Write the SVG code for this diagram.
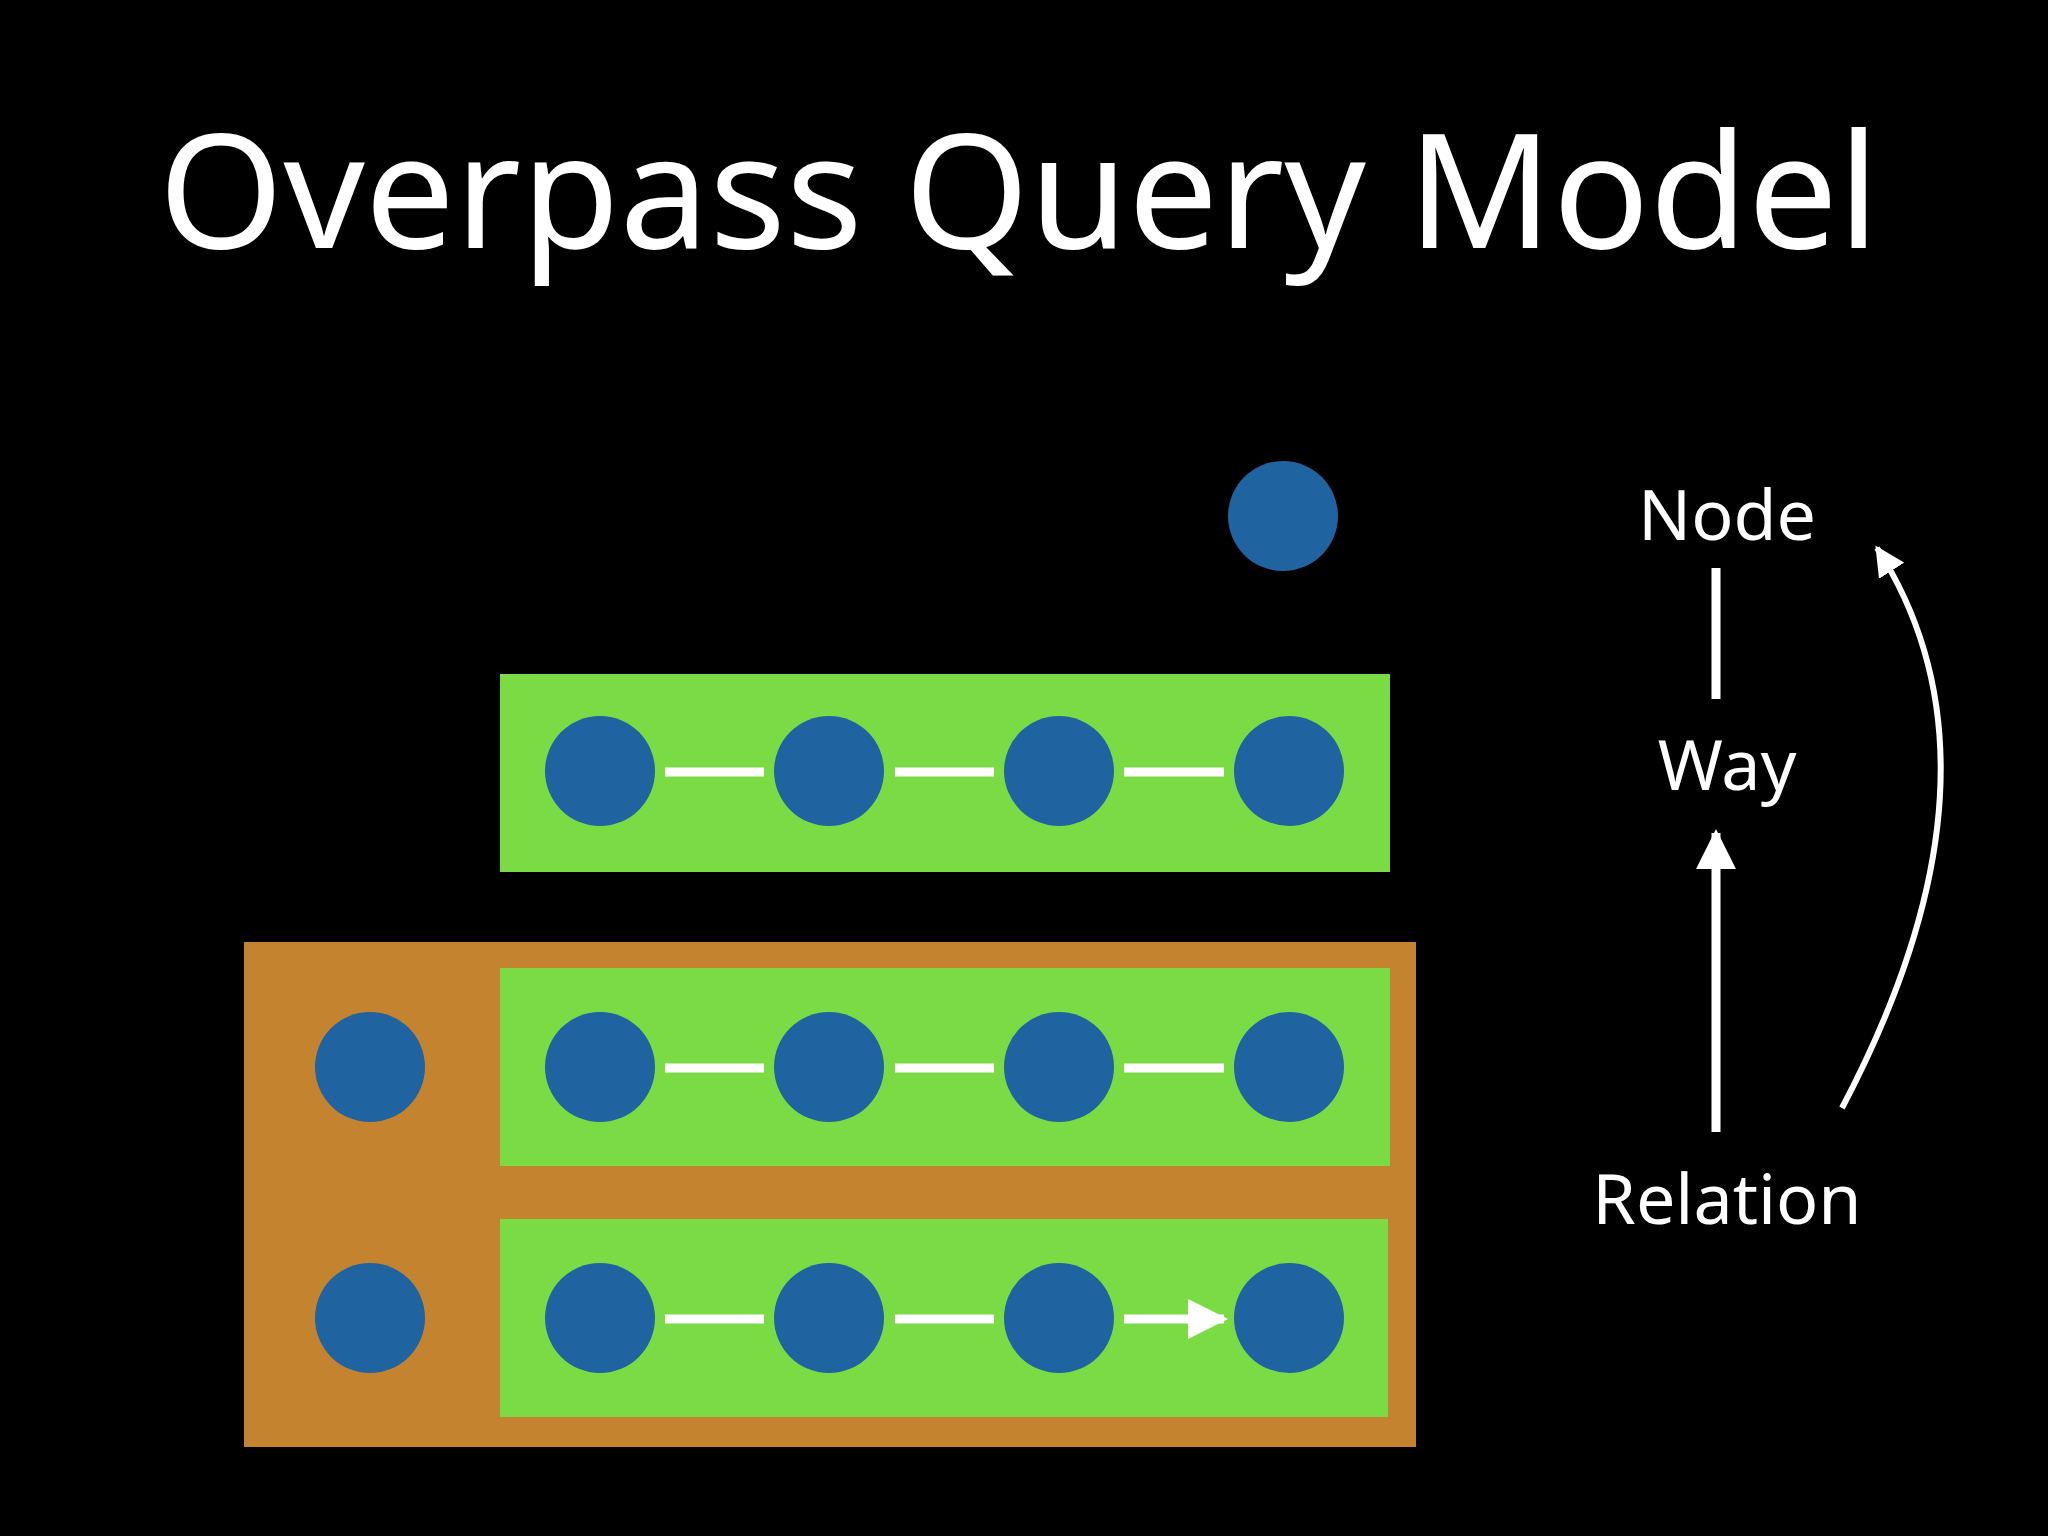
<svg xmlns="http://www.w3.org/2000/svg" width="2048" height="1536" viewBox="0 0 2048 1536">
<style>
.n{fill:#1f63a0}
.g{fill:#7bdb45}
.t{fill:#fff;font-family:"Noto Sans","Liberation Sans",sans-serif}
.a{stroke:#fff;stroke-width:9;fill:none}
.c{stroke:#fff;stroke-width:6;fill:none}
</style>
<defs>
<marker id="h" viewBox="0 0 10 10" refX="9" refY="5" markerWidth="4.5" markerHeight="4.5" markerUnits="strokeWidth" orient="auto"><path d="M0,0L10,5L0,10z" fill="#fff"/></marker>
<marker id="h2" viewBox="0 0 10 10" refX="9" refY="5" markerWidth="5" markerHeight="5" markerUnits="strokeWidth" orient="auto"><path d="M0,0L10,5L0,10z" fill="#fff"/></marker>
</defs>
<rect width="2048" height="1536" fill="#000"/>
<text class="t" x="1019" y="248" font-size="160" text-anchor="middle">Overpass Query Model</text>
<g id="node"><circle class="n" cx="1283" cy="516" r="55"/></g>
<g id="way"><rect class="g" x="500" y="674" width="890" height="198"/>
<circle class="n" cx="600" cy="771" r="55"/><circle class="n" cx="829" cy="771" r="55"/><circle class="n" cx="1059" cy="771" r="55"/><circle class="n" cx="1289" cy="771" r="55"/></g>
<g id="relation"><rect x="244" y="942" width="1172" height="505" fill="#c4832f"/>
<circle class="n" cx="370" cy="1067" r="55"/><circle class="n" cx="370" cy="1318" r="55"/>
<rect class="g" x="500" y="968" width="890" height="198"/>
<rect class="g" x="500" y="1219" width="888" height="198"/>
<circle class="n" cx="600" cy="1067" r="55"/><circle class="n" cx="829" cy="1067" r="55"/><circle class="n" cx="1059" cy="1067" r="55"/><circle class="n" cx="1289" cy="1067" r="55"/>
<circle class="n" cx="600" cy="1318" r="55"/><circle class="n" cx="829" cy="1318" r="55"/><circle class="n" cx="1059" cy="1318" r="55"/><circle class="n" cx="1289" cy="1318" r="55"/></g>
<g id="labels">
<text class="t" x="1727" y="540" font-size="70" text-anchor="middle">Node</text>
<text class="t" x="1727" y="790" font-size="70" text-anchor="middle">Way</text>
<text class="t" x="1727" y="1224" font-size="70" text-anchor="middle">Relation</text>
</g>
<g id="connectors">
<path class="a" marker-end="url(#h)" d="M665 772H764M895 772H994M1124 772H1224M665 1068H764M895 1068H994M1124 1068H1224M665 1319H764M895 1319H994M1124 1319H1224"/>
<path class="a" marker-end="url(#h)" d="M1716 699V568M1716 1132V833"/>
<path class="c" marker-end="url(#h2)" d="M1842 1108Q2020 770 1877 548"/>
</g>
</svg>
